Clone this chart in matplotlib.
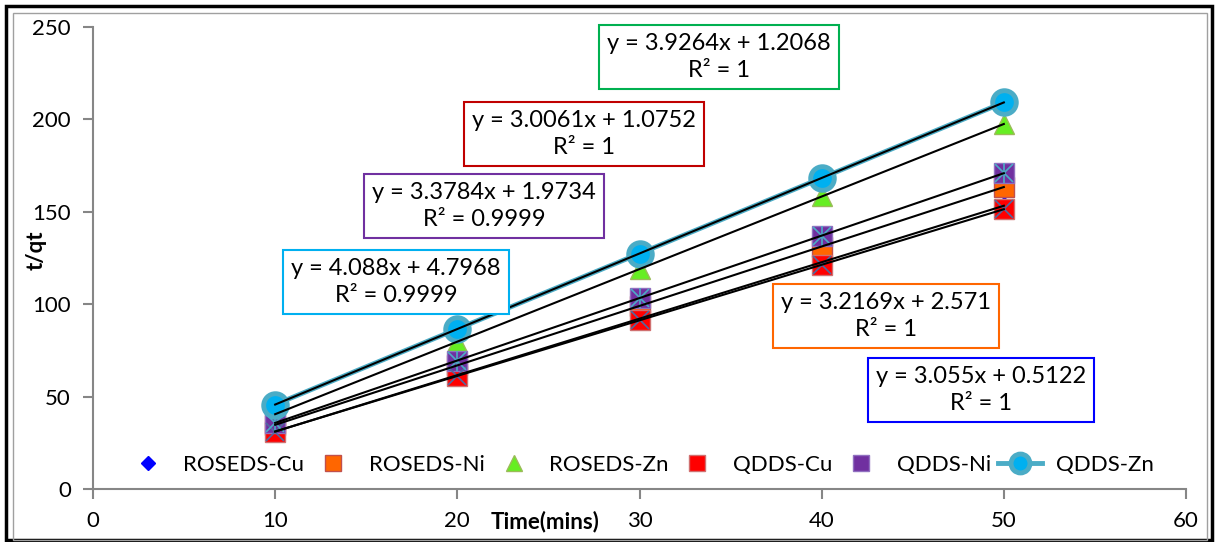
import numpy as np
import matplotlib
matplotlib.use("Agg")
import matplotlib.pyplot as plt
from matplotlib.patches import Rectangle

plt.rcParams['font.family'] = ['Lato', 'DejaVu Sans']

# data
time_min = [10, 20, 30, 40, 50]
roseds_cu = [31.1, 61.6, 92.2, 122.7, 153.3]
roseds_ni = [34.7, 66.9, 99.1, 131.2, 163.4]
roseds_zn = [40.5, 79.7, 119.0, 158.3, 197.5]
qdds_cu = [31.1, 61.2, 91.3, 121.3, 151.4]
qdds_ni = [35.8, 69.5, 103.3, 137.1, 170.9]
qdds_zn = [45.7, 86.6, 127.4, 168.3, 209.2]

eq_texts = {
    "ROSEDS-Cu": "y = 3.055x + 0.5122\nR² = 1",
    "ROSEDS-Ni": "y = 3.2169x + 2.571\nR² = 1",
    "ROSEDS-Zn": "y = 3.9264x + 1.2068\nR² = 1",
    "QDDS-Cu": "y = 3.0061x + 1.0752\nR² = 1",
    "QDDS-Ni": "y = 3.3784x + 1.9734\nR² = 0.9999",
    "QDDS-Zn": "y = 4.088x + 4.7968\nR² = 0.9999",
}

W, H = 1216, 542
fig = plt.figure(figsize=(W / 100, H / 100), dpi=100)
ax = fig.add_axes([93 / W, 1 - 489 / H, (1186 - 93) / W, (489 - 27) / H])

# frames around the whole figure
fig.patches.append(Rectangle((6 / W, 2 / H), (W - 10) / W, (H - 8) / H, transform=fig.transFigure,
                             fill=False, edgecolor='black', lw=2.5))
fig.patches.append(Rectangle((13 / W, 2 / H), (W - 22) / W, (H - 15) / H, transform=fig.transFigure,
                             fill=False, edgecolor='#a0a0a0', lw=1))

series = [
    ("ROSEDS-Cu", roseds_cu, dict(marker='D', color='#0000ff', ms=9, mec='#0000ff', ls='none')),
    ("ROSEDS-Ni", roseds_ni, dict(marker='s', color='#ff6600', ms=15, mec='#c0504d', mew=1, ls='none')),
    ("ROSEDS-Zn", roseds_zn, dict(marker='^', color='#66ee22', ms=15, mec='#9bbb59', mew=1, ls='none')),
    ("QDDS-Cu", qdds_cu, dict(marker='s', color='#ff0000', ms=15, mec='#d07070', mew=1, ls='none')),
    ("QDDS-Ni", qdds_ni, dict(marker='s', color='#7030a0', ms=15, mec='#9070c0', mew=1, ls='none')),
    ("QDDS-Zn", qdds_zn, dict(marker='o', color='#4bacc6', mfc='#00b0f0', ms=17, mec='#4bacc6', mew=3.5,
                              ls='-', lw=3.5)),
]

handles = []
for name, vals, kw in series:
    h, = ax.plot(time_min, vals, label=name, zorder=3, **kw)
    handles.append(h)

# cross overlays on the QDDS-Cu and QDDS-Ni squares
ax.plot(time_min, qdds_cu, ls='none', marker='x', ms=13, mec='#4f6aa0', mew=1.2, zorder=4)
ax.plot(time_min, qdds_ni, ls='none', marker='x', ms=13, mec='#4bacc6', mew=1.2, zorder=4)
ax.plot(time_min, qdds_ni, ls='none', marker='|', ms=15, mec='#4bacc6', mew=1.2, zorder=4)

# linear trendlines
xs = np.array(time_min)
for name, vals, kw in series:
    k, b = np.polyfit(xs, vals, 1)
    ax.plot(xs, k * xs + b, color='black', lw=1.5, zorder=5)

ax.set_xlim(0, 60)
ax.set_ylim(0, 250)
ax.set_xticks(range(0, 61, 10))
ax.set_yticks(range(0, 251, 50))
for s in ['top', 'right']:
    ax.spines[s].set_visible(False)
for s in ['left', 'bottom']:
    ax.spines[s].set_color('#868686')
    ax.spines[s].set_linewidth(1.5)
ax.tick_params(colors='#868686', labelcolor='black', labelsize=16, length=7, width=1.5)
ax.tick_params(axis='x', pad=9)
ax.tick_params(axis='y', pad=9)

ax.set_ylabel("t/qt", fontsize=16, fontweight='bold')
ax.yaxis.set_label_coords((47 - 93) / 1093, (489 - 250) / 462)
fig.text(545 / W, 1 - 522 / H, "Time(mins)", fontsize=16, fontweight='bold', ha='center', va='center')

leg = ax.legend(handles=handles, loc='center', bbox_to_anchor=(0.5, (489 - 465) / 462), ncol=6,
                frameon=False, fontsize=16, handlelength=2.0, columnspacing=0.3, handletextpad=0.6,
                markerscale=0.8)

# equation boxes (centre x, centre y in pixels, edge colour)
boxes = [
    ("ROSEDS-Zn", 719, 57, '#00b050'),
    ("QDDS-Cu", 584, 134, '#c00000'),
    ("QDDS-Ni", 484, 206, '#7030a0'),
    ("QDDS-Zn", 396, 282, '#00b0f0'),
    ("ROSEDS-Ni", 886, 316, '#ff6600'),
    ("ROSEDS-Cu", 981, 390, '#0000ff'),
]
for name, cx, cy, ec in boxes:
    fig.text(cx / W, 1 - cy / H, eq_texts[name], fontsize=17, ha='center', va='center',
             multialignment='center', linespacing=1.35, zorder=6,
             bbox=dict(boxstyle='square,pad=0.35', fc='white', ec=ec, lw=1.5))

fig.savefig("out.png", dpi=100)
